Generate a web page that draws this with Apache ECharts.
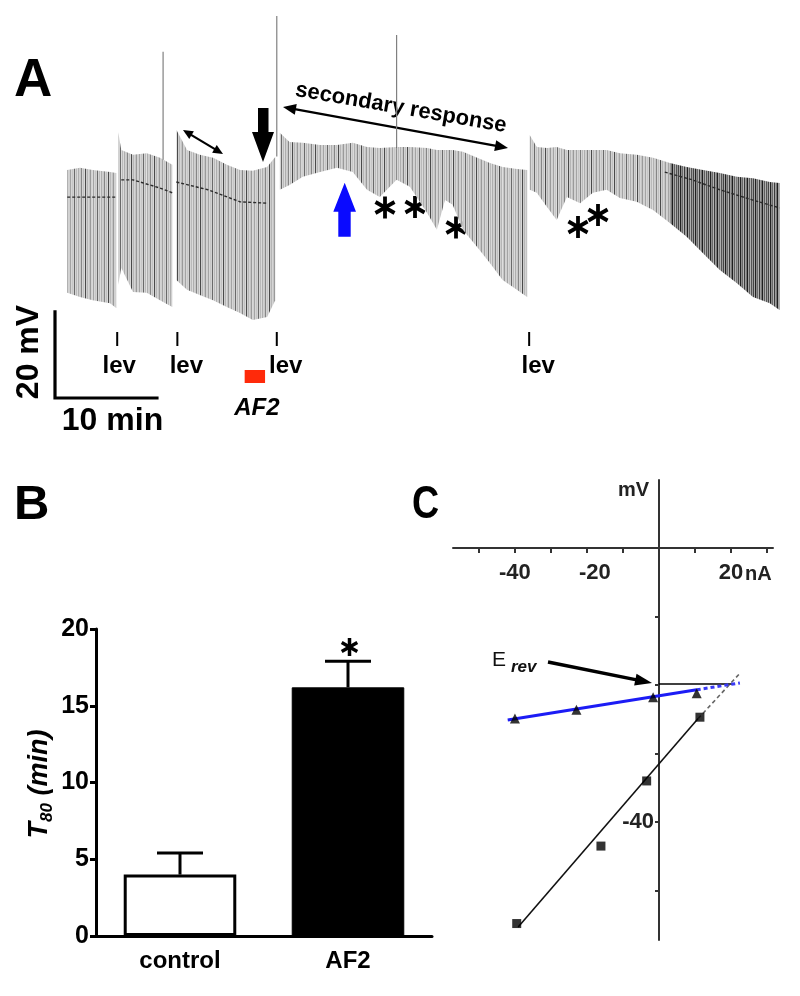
<!DOCTYPE html>
<html><head><meta charset="utf-8">
<script src="https://cdn.jsdelivr.net/npm/echarts@6/dist/echarts.min.js"></script>
<style>html,body{margin:0;padding:0;background:#fff}#c{width:800px;height:996px}</style>
</head><body><div id="c"></div>
<script>
// ================= Panel A : intracellular recording (time in min, potential in mV above scale-bar base)
const traceTime   = [1.2, 2.45, 3.7, 5.4, 6.0,
                     6.2, 6.5, 7.65, 9.0, 10.3, 11.5,
                     11.9, 12.95, 14.2, 15.5, 16.85, 18.15, 19.4, 20.8, 21.6,
                     22.05, 23.0, 24.3, 26.0, 27.65, 29.2, 30.6, 31.85, 33.5, 34.8, 36.5, 37.45, 38.25, 39.0, 40.0, 41.4, 42.65, 43.9, 45.3, 46.3,
                     46.55, 47.25, 48.25, 49.2, 50.2, 51.5, 52.75, 54.1, 55.4, 57.05, 58.65, 60.3, 61.95, 63.55, 65.2, 66.85, 68.45, 70.1, 71.05];
const traceTop    = [52.9, 53.4, 52.9, 52.4, 52.2,
                     61.7, 57.5, 56.4, 56.8, 55.7, 54.1,
                     62.2, 57.5, 56.4, 55.7, 54.1, 52.9, 52.7, 53.6, 55.9,
                     61.5, 59.4, 59.2, 58.7, 58.7, 59.2, 58.2, 58.0, 58.2, 58.2, 58.0, 57.5, 57.5, 57.5, 57.1, 55.7, 54.5, 53.6, 53.1, 52.9,
                     61.0, 58.2, 58.0, 58.2, 57.5, 57.5, 57.5, 57.5, 56.8, 56.4, 55.7, 54.5, 53.6, 52.9, 52.2, 51.3, 51.0, 50.1, 49.9];
const traceBottom = [24.4, 23.4, 22.7, 22.0, 20.9,
                     26.2, 30.2, 24.6, 24.4, 22.7, 21.1,
                     27.4, 25.1, 23.9, 22.7, 21.1, 19.7, 18.1, 18.8, 22.7,
                     48.3, 49.4, 51.3, 52.4, 53.4, 52.4, 48.3, 46.6, 50.6, 49.0, 42.9, 39.0, 45.9, 44.8, 39.0, 35.0, 31.3, 27.4, 25.1, 23.4,
                     48.3, 47.6, 44.3, 41.3, 46.6, 45.2, 47.6, 48.3, 46.4, 45.5, 43.6, 40.6, 37.4, 33.6, 29.7, 26.7, 23.4, 22.0, 20.4];
const traceSweep  = [1,1,1,1,1, 2,2,2,2,2,2, 3,3,3,3,3,3,3,3,3,
                     4,4,4,4,4,4,4,4,4,4,4,4,4,4,4,4,4,4,4,4,
                     5,5,5,5,5,5,5,5,5,5,5,5,5,5,5,5,5,5,5];
const meanTime  = [1.2, 3.7, 6.0, null, 6.5, 7.65, 10.3, 11.5, null, 11.9, 15.0, 18.15, 20.8, null, 59.8, 62.5, 65.2, 68.45, 71.05];
const meanValue = [46.6, 46.6, 46.6, null, 50.6, 50.6, 48.7, 47.6, null, 50.1, 48.3, 45.5, 45.2, null, 52.4, 50.6, 48.3, 45.9, 44.1];
const spikeTime = [10.6, 21.75, 33.5];
const spikeBase = [55.0, 56.0, 58.0];
const spikeTop  = [80.3, 88.6, 84.2];
const levTime   = [6.1, 12.0, 21.75, 46.5];
const af2Window = [18.6, 20.6];
const scaleBarTime = [0, 0, 10];
const scaleBarVolt = [20, 0, 0];
const darkFrom = 59.8;

// ================= Panel B : T80
const bCategories = ['control', 'AF2'];
const bMean = [4.0, 16.2];
const bSem  = [1.4, 1.7];

// ================= Panel C : I-V relation
const triCurrent = [-40, -22.9, -1.6, 10.5];
const triVoltage = [-24.9, -23.6, -21.8, -21.2];
const sqCurrent  = [-39.5, -16.1, -3.4, 11.4];
const sqVoltage  = [-54.8, -43.5, -34.0, -24.7];
const blueFitCurrent  = [-42, 10.5, 22.5];
const blueFitVoltage  = [-25.1, -20.7, -19.7];
const blackFitCurrent = [-39.1, 10.9, 22.5];
const blackFitVoltage = [-55.3, -24.9, -18.3];
const erevCurrent = [0, 20.6];
const erevVoltage = -19.85;
const cXTicks  = [-50, -40, -30, -20, -10, 10, 20, 30];
const cXLabels = [-40, -20, 20];
const cYTicks  = [-50, -40, -30, -20, -10];
const cYLabels = [-40];

// ---------------- helpers
const SANS = '"Liberation Sans", Arial, sans-serif';

function stripes(cols){
  const c = document.createElement('canvas'); c.width = cols.length; c.height = 4;
  const g = c.getContext('2d');
  cols.forEach((col, i) => { g.fillStyle = col; g.fillRect(i, 0, 1, 4); });
  return c;
}
const lightPat = stripes(['#d0d0d0','#a4a4a4','#d6d6d6','#c6c6c6','#d2d2d2','#6a6a6a','#d4d4d4','#bababa','#dadada','#aeaeae',
                          '#d0d0d0','#c8c8c8','#868686','#d3d3d3','#c0c0c0','#d8d8d8','#4a4a4a','#cecece','#b6b6b6','#d5d5d5',
                          '#c4c4c4','#9a9a9a','#d2d2d2']);
const darkPat  = stripes(['#b0b0b0','#555555','#9a9a9a','#444444','#a8a8a8','#222222','#8c8c8c','#6a6a6a','#b4b4b4','#3a3a3a',
                          '#9e9e9e','#777777','#1e1e1e','#a2a2a2','#5e5e5e']);

function arrowHead(x1, y1, x2, y2, len, wid, color){
  const a = Math.atan2(y2 - y1, x2 - x1);
  const bx = x2 - len * Math.cos(a), by = y2 - len * Math.sin(a);
  const nx = -Math.sin(a) * wid / 2, ny = Math.cos(a) * wid / 2;
  return {type:'polygon', shape:{points:[[x2, y2], [bx + nx, by + ny], [bx - nx, by - ny]]}, style:{fill:color}};
}
function arrow(x1, y1, x2, y2, lw, len, wid, both, color){
  const a = Math.atan2(y2 - y1, x2 - x1);
  const sx = both ? x1 + len * 0.7 * Math.cos(a) : x1, sy = both ? y1 + len * 0.7 * Math.sin(a) : y1;
  const ex = x2 - len * 0.7 * Math.cos(a), ey = y2 - len * 0.7 * Math.sin(a);
  const els = [{type:'line', shape:{x1:sx, y1:sy, x2:ex, y2:ey}, style:{stroke:color, lineWidth:lw}},
               arrowHead(x1, y1, x2, y2, len, wid, color)];
  if (both) els.push(arrowHead(x2, y2, x1, y1, len, wid, color));
  return els;
}
function asterisk(cx, cy, r, lw){
  const els = [];
  [90, 30, -30].forEach(d => {
    const a = d * Math.PI / 180;
    els.push({type:'line', shape:{x1:cx - r * Math.cos(a), y1:cy - r * Math.sin(a), x2:cx + r * Math.cos(a), y2:cy + r * Math.sin(a)},
              style:{stroke:'#000', lineWidth:lw, lineCap:'butt'}});
  });
  return els;
}

const graphics = [];
graphics.push({type:'text', x:14, y:81, style:{text:'A', font:'bold 53px ' + SANS, fill:'#000', align:'left', verticalAlign:'middle'}});
graphics.push({type:'text', x:14, y:505, style:{text:'B', font:'bold 49px ' + SANS, fill:'#000', align:'left', verticalAlign:'middle'}});
graphics.push({type:'text', x:412, y:505, scaleX:0.8, style:{text:'C', font:'bold 47px ' + SANS, fill:'#000', align:'left', verticalAlign:'middle'}});
// panel A annotations
graphics.push(...arrow(183, 130, 223, 154, 2.2, 10, 9, true, '#000'));
graphics.push(...arrow(283, 107, 508, 148, 2.5, 13, 11, true, '#000'));
graphics.push({type:'polygon', shape:{points:[[258,108],[268.5,108],[268.5,132],[274,132],[263,162],[252,132],[258,132]]}, style:{fill:'#000'}});
graphics.push({type:'polygon', shape:{points:[[344.7,182.7],[356,211.7],[350.7,211.7],[350.7,236.7],[338.3,236.7],[338.3,211.7],[333.3,211.7]]}, style:{fill:'#0a0aff'}});
graphics.push({type:'text', x:401, y:108, rotation:-0.171, style:{text:'secondary response', font:'bold 22px ' + SANS, fill:'#000', align:'center', verticalAlign:'middle'}});
[[385,207.5],[415,207],[456,227.5],[578,227],[598,215]].forEach(p => graphics.push(...asterisk(p[0], p[1], 11, 3.8)));
graphics.push({type:'text', x:29.5, y:352, rotation:Math.PI / 2, style:{text:'20 mV', font:'bold 32px ' + SANS, fill:'#000', align:'center', verticalAlign:'middle'}});
graphics.push({type:'text', x:112.5, y:421, style:{text:'10 min', font:'bold 32px ' + SANS, fill:'#000', align:'center', verticalAlign:'middle'}});
// panel B annotations
graphics.push(...asterisk(349.5, 647, 9, 3.5));
graphics.push({type:'text', x:40, y:784, rotation:Math.PI / 2,
  style:{text:'{t|T}{s|80}{t| (min)}', align:'center', verticalAlign:'middle',
    rich:{t:{font:'italic bold 27px ' + SANS, fill:'#000', lineHeight:32, verticalAlign:'middle'},
          s:{font:'italic bold 17px ' + SANS, fill:'#000', lineHeight:32, verticalAlign:'bottom'}}}});
// panel C annotations
graphics.push({type:'text', x:649, y:490, style:{text:'mV', font:'bold 20px ' + SANS, fill:'#222', align:'right', verticalAlign:'middle'}});
graphics.push({type:'text', x:745, y:574, style:{text:'nA', font:'bold 20px ' + SANS, fill:'#222', align:'left', verticalAlign:'middle'}});
graphics.push(...arrow(548, 662, 652, 683, 3.5, 17, 12, false, '#000'));
graphics.push({type:'text', x:492, y:660, style:{text:'E', font:'21px ' + SANS, fill:'#111', align:'left', verticalAlign:'middle'}});
graphics.push({type:'text', x:511, y:667, style:{text:'rev', font:'italic bold 17px ' + SANS, fill:'#111', align:'left', verticalAlign:'middle'}});

const chart = echarts.init(document.getElementById('c'), null, {renderer:'canvas', width:800, height:996});

const traceData = traceTime.map((t, i) => [t, traceBottom[i], traceTop[i], traceSweep[i]]);
const meanData = meanTime.map((t, i) => t === null ? ['-', '-'] : [t, meanValue[i]]);

chart.setOption({
  animation:false,
  backgroundColor:'#fff',
  grid:[
    {left:55, top:10, width:725, height:388},
    {left:96, top:629, width:336, height:307},
    {left:453, top:480, width:320, height:460}
  ],
  xAxis:[
    {gridIndex:0, type:'value', min:0, max:71.1, show:false},
    {gridIndex:1, type:'category', data:bCategories,
      axisLine:{lineStyle:{color:'#000', width:3}},
      axisTick:{alignWithLabel:true, length:9, lineStyle:{color:'#000', width:3}},
      axisLabel:{color:'#000', fontFamily:SANS, fontWeight:'bold', fontSize:24, margin:13}},
    {gridIndex:2, type:'value', min:-57.2, max:31.7, position:'top', offset:-68,
      axisLine:{onZero:false, lineStyle:{color:'#333', width:2}},
      axisTick:{show:true, inside:true, length:5, customValues:cXTicks, lineStyle:{color:'#333', width:2}},
      axisLabel:{customValues:cXLabels, inside:true, color:'#222', fontFamily:SANS, fontWeight:'bold', fontSize:22, margin:14,
        formatter: v => v === -20 ? '{m|-20}' : String(v),
        rich:{m:{fontFamily:SANS, fontWeight:'bold', fontSize:22, color:'#222', padding:[0,0,0,16]}}},
      splitLine:{show:false}}
  ],
  yAxis:[
    {gridIndex:0, type:'value', min:0, max:90, show:false},
    {gridIndex:1, type:'value', min:0, max:20, interval:5,
      axisLine:{show:true, lineStyle:{color:'#000', width:3}},
      axisTick:{show:true, length:6, lineStyle:{color:'#000', width:3}},
      axisLabel:{color:'#000', fontFamily:SANS, fontWeight:'bold', fontSize:25, margin:7},
      splitLine:{show:false}},
    {gridIndex:2, type:'value', min:-57.2, max:9.9, position:'left', offset:-206,
      axisLine:{show:true, onZero:false, lineStyle:{color:'#333', width:2}},
      axisTick:{show:true, length:4, customValues:cYTicks, lineStyle:{color:'#333', width:2}},
      axisLabel:{customValues:cYLabels, color:'#222', fontFamily:SANS, fontWeight:'bold', fontSize:22, margin:5},
      splitLine:{show:false}}
  ],
  graphic:{elements:graphics},
  series:[
    // ---- A
    {type:'custom', xAxisIndex:0, yAxisIndex:0, clip:false, z:1,
      data:spikeTime.map((t, i) => [t, spikeBase[i], spikeTop[i]]),
      renderItem:(params, api) => {
        const a = api.coord([api.value(0), api.value(1)]), b = api.coord([api.value(0), api.value(2)]);
        return {type:'line', shape:{x1:a[0], y1:a[1], x2:b[0], y2:b[1]}, style:{stroke:'#808080', lineWidth:1.2}};
      }},
    {type:'custom', xAxisIndex:0, yAxisIndex:0, clip:false, z:2,
      data:traceData,
      renderItem:(params, api) => {
        const i = params.dataIndex;
        if (i + 1 >= traceTime.length || traceSweep[i + 1] !== traceSweep[i]) return null;
        const pts = [api.coord([traceTime[i], traceTop[i]]), api.coord([traceTime[i + 1], traceTop[i + 1]]),
                     api.coord([traceTime[i + 1], traceBottom[i + 1]]), api.coord([traceTime[i], traceBottom[i]])];
        const pat = traceTime[i] >= darkFrom ? darkPat : lightPat;
        return {type:'polygon', shape:{points:pts}, style:{fill:{image:pat, repeat:'repeat'}}};
      }},
    {type:'line', xAxisIndex:0, yAxisIndex:0, z:3, data:meanData, symbol:'none', connectNulls:false,
      lineStyle:{color:'#2a2a2a', width:1.4, type:[3, 2]}},
    {type:'line', xAxisIndex:0, yAxisIndex:0, z:3, clip:false, symbol:'none',
      data:scaleBarTime.map((t, i) => [t, scaleBarVolt[i]]),
      lineStyle:{color:'#000', width:3.2, cap:'square', join:'miter'}},
    {type:'custom', xAxisIndex:0, yAxisIndex:0, clip:false, z:3,
      data:levTime.map(t => [t]),
      renderItem:(params, api) => {
        const x = api.coord([api.value(0), 0])[0];
        return {type:'group', children:[
          {type:'line', shape:{x1:x, y1:332, x2:x, y2:346}, style:{stroke:'#000', lineWidth:2}},
          {type:'text', x:x + (params.dataIndex === 0 ? 2 : 9), y:366,
            style:{text:'lev', font:'bold 24px ' + SANS, fill:'#000', align:'center', verticalAlign:'middle'}}
        ]};
      }},
    {type:'custom', xAxisIndex:0, yAxisIndex:0, clip:false, z:3,
      data:[af2Window],
      renderItem:(params, api) => {
        const x0 = api.coord([api.value(0), 0])[0], x1 = api.coord([api.value(1), 0])[0];
        return {type:'group', children:[
          {type:'rect', shape:{x:x0, y:370, width:x1 - x0, height:13}, style:{fill:'#ff2a0a'}},
          {type:'text', x:(x0 + x1) / 2 + 2, y:408, style:{text:'AF2', font:'italic bold 24px ' + SANS, fill:'#000', align:'center', verticalAlign:'middle'}}
        ]};
      }},
    // ---- B
    {type:'bar', xAxisIndex:1, yAxisIndex:1, barWidth:'67%', z:2,
      data:bMean.map((v, i) => ({value:v, itemStyle: i === 0
        ? {color:'#fff', borderColor:'#000', borderWidth:3}
        : {color:'#000', borderColor:'#000', borderWidth:1}}))},
    {type:'custom', xAxisIndex:1, yAxisIndex:1, z:3,
      data:bMean.map((v, i) => [i, v, bSem[i]]),
      renderItem:(params, api) => {
        const c = api.value(0), m = api.value(1), e = api.value(2);
        const base = api.coord([c, m]), top = api.coord([c, m + e]);
        return {type:'group', children:[
          {type:'line', shape:{x1:base[0], y1:base[1], x2:top[0], y2:top[1]}, style:{stroke:'#000', lineWidth:3}},
          {type:'line', shape:{x1:top[0] - 23, y1:top[1], x2:top[0] + 23, y2:top[1]}, style:{stroke:'#000', lineWidth:3}}
        ]};
      }},
    // ---- C
    {type:'line', xAxisIndex:2, yAxisIndex:2, symbol:'none', z:3,
      data:[[erevCurrent[0], erevVoltage], [erevCurrent[1], erevVoltage]], lineStyle:{color:'#000', width:1.5}},
    {type:'line', xAxisIndex:2, yAxisIndex:2, symbol:'none', z:3,
      data:blackFitCurrent.slice(0, 2).map((c, i) => [c, blackFitVoltage[i]]), lineStyle:{color:'#111', width:1.6}},
    {type:'line', xAxisIndex:2, yAxisIndex:2, symbol:'none', z:3,
      data:blackFitCurrent.slice(1).map((c, i) => [c, blackFitVoltage[i + 1]]), lineStyle:{color:'#666', width:1.6, type:[4, 3]}},
    {type:'line', xAxisIndex:2, yAxisIndex:2, symbol:'none', z:3,
      data:blueFitCurrent.slice(0, 2).map((c, i) => [c, blueFitVoltage[i]]), lineStyle:{color:'#1c1cf5', width:3}},
    {type:'line', xAxisIndex:2, yAxisIndex:2, symbol:'none', z:3,
      data:blueFitCurrent.slice(1).map((c, i) => [c, blueFitVoltage[i + 1]]), lineStyle:{color:'#3a3af5', width:3, type:[4, 3]}},
    {type:'scatter', xAxisIndex:2, yAxisIndex:2, symbol:'triangle', symbolSize:10, z:4,
      data:triCurrent.map((c, i) => [c, triVoltage[i]]), itemStyle:{color:'#000'}},
    {type:'scatter', xAxisIndex:2, yAxisIndex:2, symbol:'rect', symbolSize:9, z:4,
      data:sqCurrent.map((c, i) => [c, sqVoltage[i]]), itemStyle:{color:'#000'}}
  ]
});
</script></body></html>
